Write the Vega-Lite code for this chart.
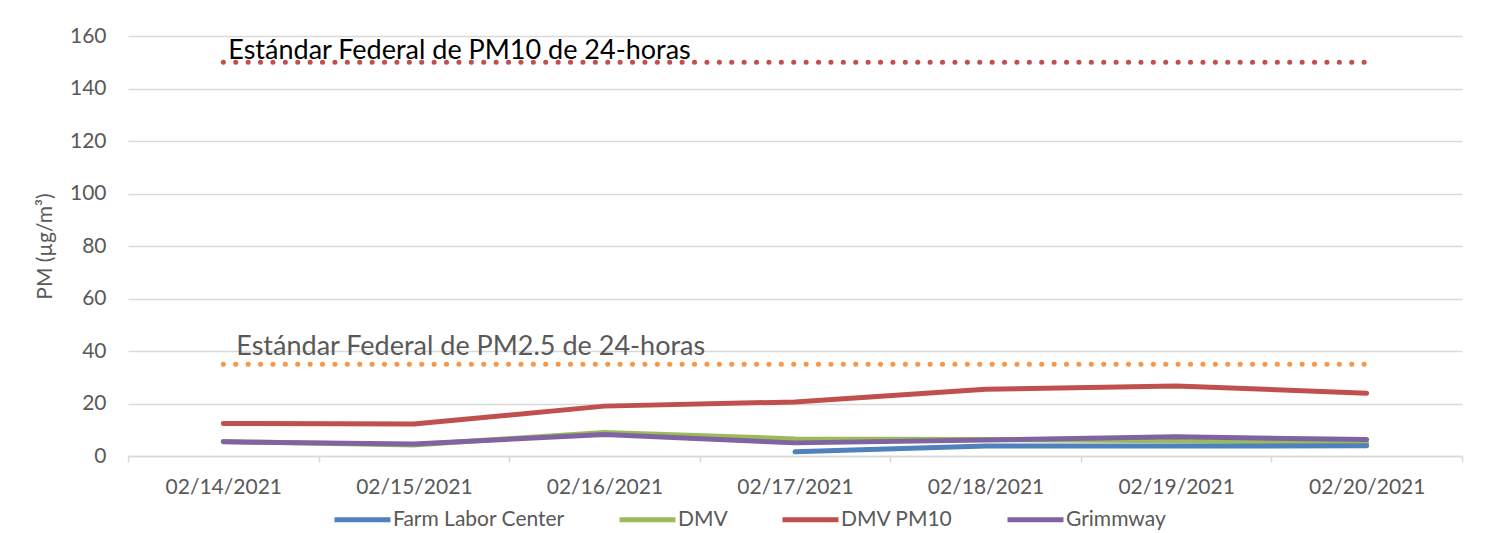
{
  "$schema": "https://vega.github.io/schema/vega-lite/v6.json",
  "autosize": "none",
  "width": 1334,
  "height": 420,
  "padding": {"left": 128, "top": 36, "right": 41, "bottom": 77},
  "background": "white",
  "config": {
    "font": "Lato",
    "view": {"stroke": null},
    "axis": {"labelFont": "Lato", "titleFont": "Lato", "labelColor": "#595959", "titleColor": "#595959", "titleFontWeight": "normal"},
    "legend": {"labelFont": "Lato"}
  },
  "datasets": {
    "series": [
      {"date": "02/14/2021", "station": "DMV", "pm": 5.5},
      {"date": "02/15/2021", "station": "DMV", "pm": 4.2},
      {"date": "02/16/2021", "station": "DMV", "pm": 9.0},
      {"date": "02/17/2021", "station": "DMV", "pm": 6.5},
      {"date": "02/18/2021", "station": "DMV", "pm": 6.3},
      {"date": "02/19/2021", "station": "DMV", "pm": 5.8},
      {"date": "02/20/2021", "station": "DMV", "pm": 5.0},
      {"date": "02/14/2021", "station": "DMV PM10", "pm": 12.4},
      {"date": "02/15/2021", "station": "DMV PM10", "pm": 12.2},
      {"date": "02/16/2021", "station": "DMV PM10", "pm": 19.0},
      {"date": "02/17/2021", "station": "DMV PM10", "pm": 20.6},
      {"date": "02/18/2021", "station": "DMV PM10", "pm": 25.4},
      {"date": "02/19/2021", "station": "DMV PM10", "pm": 26.7},
      {"date": "02/20/2021", "station": "DMV PM10", "pm": 23.9},
      {"date": "02/14/2021", "station": "Grimmway", "pm": 5.4},
      {"date": "02/15/2021", "station": "Grimmway", "pm": 4.6},
      {"date": "02/16/2021", "station": "Grimmway", "pm": 8.2},
      {"date": "02/17/2021", "station": "Grimmway", "pm": 5.0},
      {"date": "02/18/2021", "station": "Grimmway", "pm": 6.1},
      {"date": "02/19/2021", "station": "Grimmway", "pm": 7.3},
      {"date": "02/20/2021", "station": "Grimmway", "pm": 6.3},
      {"date": "02/17/2021", "station": "Farm Labor Center", "pm": 1.6},
      {"date": "02/18/2021", "station": "Farm Labor Center", "pm": 3.8},
      {"date": "02/19/2021", "station": "Farm Labor Center", "pm": 3.8},
      {"date": "02/20/2021", "station": "Farm Labor Center", "pm": 3.9}
    ],
    "standards": [
      {"std": "PM10", "date": "02/14/2021", "value": 150},
      {"std": "PM10", "date": "02/20/2021", "value": 150},
      {"std": "PM2.5", "date": "02/14/2021", "value": 35},
      {"std": "PM2.5", "date": "02/20/2021", "value": 35}
    ],
    "labels": [
      {"std": "PM10", "date": "02/14/2021", "value": 150, "label": "Estándar Federal de PM10 de 24-horas"},
      {"std": "PM2.5", "date": "02/14/2021", "value": 35, "label": "Estándar Federal de PM2.5 de 24-horas"}
    ]
  },
  "encoding": {
    "x": {
      "field": "date", "type": "nominal", "sort": null,
      "scale": {"type": "band", "paddingInner": 0, "paddingOuter": 0,
        "domain": ["02/14/2021","02/15/2021","02/16/2021","02/17/2021","02/18/2021","02/19/2021","02/20/2021"]},
      "axis": {"title": null, "labelAngle": 0, "labelFontSize": 21, "labelPadding": 14,
        "domainColor": "#D9D9D9", "domainWidth": 1.5, "tickColor": "#D9D9D9", "tickWidth": 1.5, "tickSize": 6, "tickBand": "extent", "grid": false}
    },
    "y": {
      "type": "quantitative",
      "scale": {"domain": [0, 160], "nice": false},
      "axis": {"title": "PM (µg/m³)", "values": [0,20,40,60,80,100,120,140,160], "domain": false, "ticks": false,
        "labelFontSize": 21, "labelPadding": 22, "titleFontSize": 21, "titlePadding": 14,
        "grid": true, "gridColor": "#D9D9D9", "gridWidth": 1.5}
    }
  },
  "layer": [
    {
      "data": {"name": "standards"},
      "transform": [{"filter": "datum.std === 'PM10'"}],
      "mark": {"type": "line", "color": "#C0504D", "strokeWidth": 5, "strokeCap": "round", "strokeDash": [0.1, 12.3]},
      "encoding": {"y": {"field": "value"}}
    },
    {
      "data": {"name": "standards"},
      "transform": [{"filter": "datum.std === 'PM2.5'"}],
      "mark": {"type": "line", "color": "#F79646", "strokeWidth": 5, "strokeCap": "round", "strokeDash": [0.1, 12.3]},
      "encoding": {"y": {"field": "value"}}
    },
    {
      "data": {"name": "labels"},
      "transform": [{"filter": "datum.std === 'PM10'"}],
      "mark": {"type": "text", "align": "left", "baseline": "alphabetic", "dx": 5, "dy": -3, "fontSize": 27, "color": "#000000", "font": "Lato"},
      "encoding": {"y": {"field": "value"}, "text": {"field": "label"}}
    },
    {
      "data": {"name": "labels"},
      "transform": [{"filter": "datum.std === 'PM2.5'"}],
      "mark": {"type": "text", "align": "left", "baseline": "alphabetic", "dx": 13, "dy": -9, "fontSize": 27, "color": "#595959", "font": "Lato"},
      "encoding": {"y": {"field": "value"}, "text": {"field": "label"}}
    },
    {
      "data": {"name": "series"},
      "mark": {"type": "line", "strokeWidth": 5, "strokeCap": "round", "strokeJoin": "round"},
      "encoding": {
        "y": {"field": "pm"},
        "color": {
          "field": "station", "type": "nominal",
          "scale": {"domain": ["Farm Labor Center", "DMV", "DMV PM10", "Grimmway"], "range": ["#4F81BD", "#9BBB59", "#C0504D", "#8064A2"]},
          "legend": {"title": null, "orient": "none", "legendX": 212, "legendY": 461, "padding": 0, "direction": "horizontal", "symbolType": "M-1.4,0H1.4", "symbolSize": 1600, "symbolStrokeWidth": 5, "symbolStrokeCap": "round",
            "labelFontSize": 21, "labelColor": "#595959", "labelLimit": 400, "columnPadding": 44, "labelOffset": 8}
        },
        "order": {"field": "station"}
      }
    }
  ]
}
